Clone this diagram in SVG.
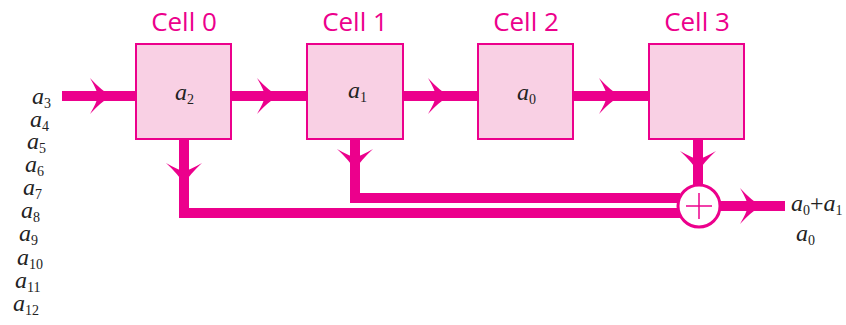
<svg xmlns="http://www.w3.org/2000/svg" xmlns:xlink="http://www.w3.org/1999/xlink" width="846" height="325" viewBox="0 0 846 325">
<style>
.box{fill:#f9d0e4;stroke:#ec008c;stroke-width:2}
.ln{stroke:#ec008c;stroke-width:10;fill:none}
.ah{fill:#ec008c}
.cl{font-family:"Open Sans","Liberation Sans",sans-serif;font-size:26px;fill:#ec008c;text-anchor:middle}
.m{font-family:"Liberation Serif",serif;font-style:italic;font-size:24px;fill:#222}
.s{font-family:"Liberation Serif",serif;font-style:normal;font-size:14px}
</style>
<defs>
<path id="ar" d="M0,0 Q-10,-6 -21,-18 Q-14,-6 -13,0 Q-14,6 -21,18 Q-10,6 0,0 Z" class="ah"/>
</defs>
<g id="connectors">
<line class="ln" x1="62" y1="96" x2="136" y2="96"/>
<line class="ln" x1="231" y1="96" x2="307" y2="96"/>
<line class="ln" x1="403" y1="96" x2="478" y2="96"/>
<line class="ln" x1="573" y1="96" x2="649" y2="96"/>
<use xlink:href="#ar" transform="translate(111,96)"/>
<use xlink:href="#ar" transform="translate(278,96)"/>
<use xlink:href="#ar" transform="translate(449,96)"/>
<use xlink:href="#ar" transform="translate(620,96)"/>
<polyline class="ln" points="184,139 184,213 680,213"/>
<use xlink:href="#ar" transform="translate(184,184) rotate(90)"/>
<polyline class="ln" points="355,139 355,198 680,198"/>
<use xlink:href="#ar" transform="translate(355,170) rotate(90)"/>
<line class="ln" x1="698" y1="139" x2="698" y2="186"/>
<use xlink:href="#ar" transform="translate(698,172) rotate(90)"/>
<line class="ln" x1="718" y1="206" x2="785" y2="206"/>
<use xlink:href="#ar" transform="translate(761,206)"/>
</g>
<g id="adder">
<circle cx="699" cy="206" r="21" fill="#fff" stroke="#ec008c" stroke-width="3"/>
<line x1="686" y1="206" x2="712" y2="206" stroke="#ec008c" stroke-width="1.5"/>
<line x1="699" y1="193" x2="699" y2="219" stroke="#ec008c" stroke-width="1.5"/>
</g>
<g id="cell0">
<text class="cl" x="184" y="31">Cell 0</text>
<rect class="box" x="136" y="44" width="95" height="95"/>
<text class="m" x="175" y="100">a<tspan class="s" dy="4">2</tspan></text>
</g>
<g id="cell1">
<text class="cl" x="355" y="31">Cell 1</text>
<rect class="box" x="307" y="44" width="96" height="95"/>
<text class="m" x="348" y="98">a<tspan class="s" dy="4">1</tspan></text>
</g>
<g id="cell2">
<text class="cl" x="526" y="31">Cell 2</text>
<rect class="box" x="478" y="44" width="95" height="95"/>
<text class="m" x="517" y="100">a<tspan class="s" dy="4">0</tspan></text>
</g>
<g id="cell3">
<text class="cl" x="697" y="31">Cell 3</text>
<rect class="box" x="649" y="44" width="95" height="95"/>
</g>
<g id="inputs">
<text class="m" x="32" y="104">a<tspan class="s" dy="4">3</tspan></text>
<text class="m" x="30" y="127">a<tspan class="s" dy="4">4</tspan></text>
<text class="m" x="27" y="149">a<tspan class="s" dy="4">5</tspan></text>
<text class="m" x="25" y="172">a<tspan class="s" dy="4">6</tspan></text>
<text class="m" x="23" y="195">a<tspan class="s" dy="4">7</tspan></text>
<text class="m" x="21" y="218">a<tspan class="s" dy="4">8</tspan></text>
<text class="m" x="19" y="241">a<tspan class="s" dy="4">9</tspan></text>
<text class="m" x="17" y="265">a<tspan class="s" dy="4">10</tspan></text>
<text class="m" x="15" y="288">a<tspan class="s" dy="4">11</tspan></text>
<text class="m" x="13" y="311">a<tspan class="s" dy="4">12</tspan></text>
</g>
<g id="outputs">
<text class="m" x="791" y="211">a<tspan class="s" dy="4">0</tspan><tspan dy="-4" style="font-style:normal">+</tspan>a<tspan class="s" dy="4">1</tspan></text>
<text class="m" x="796" y="241">a<tspan class="s" dy="4">0</tspan></text>
</g>
</svg>
